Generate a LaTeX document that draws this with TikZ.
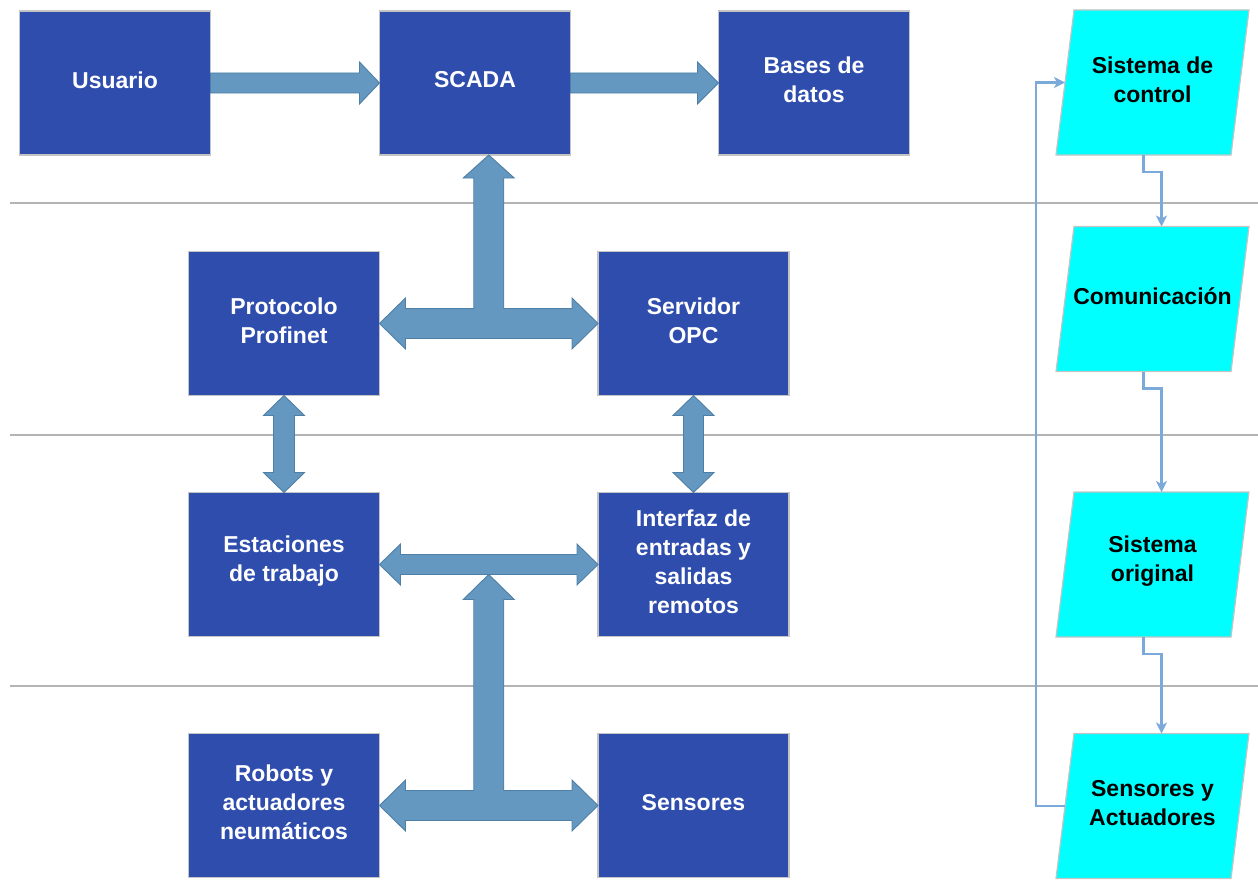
\documentclass[tikz,border=0pt]{standalone}
\usepackage{fontspec}
\setmainfont{Liberation Sans}
\usetikzlibrary{calc,arrows.meta}

\definecolor{boxblue}{HTML}{2F4DAD}
\definecolor{boxedge}{HTML}{C4C4C4}
\definecolor{fatfill}{HTML}{6598C0}
\definecolor{fatedge}{HTML}{4E7FA6}
\definecolor{flowline}{HTML}{7BA9D9}
\definecolor{sepline}{HTML}{B4B4B4}
\definecolor{paracyan}{HTML}{00FFFF}

\pgfdeclarelayer{background}
\pgfsetlayers{background,main}

\tikzset{
  blockbox/.style={rectangle, fill=boxblue, draw=boxedge, line width=1.2pt,
    minimum width=191pt, minimum height=144pt, inner sep=0pt, outer sep=0pt},
  blocklabel/.style={inner sep=0pt, yshift=3pt, text=white, align=center,
    font=\bfseries\fontsize{23}{29}\selectfont},
  paratext/.style={rectangle, inner sep=0pt, outer sep=0pt, text=black,
    align=center, font=\bfseries\fontsize{23}{29}\selectfont},
  parafill/.style={fill=paracyan, draw=boxedge, line width=1.2pt},
  fatarrow/.style={fill=fatfill, draw=fatedge, line width=0.9pt, line join=miter},
  flow/.style={draw=flowline, line width=2.5pt,
    -{Stealth[length=11pt,width=11pt,inset=3pt]}},
  sep/.style={draw=sepline, line width=1.4pt}
}

% horizontal double-headed block arrow: left tip, right tip, shaft half, head half, head length
\newcommand{\FatHArrow}[5]{%
  \filldraw[fatarrow] (#1) -- ($(#1)+(#5,-#4)$) -- ($(#1)+(#5,-#3)$)
    -- ($(#2)+(-#5,-#3)$) -- ($(#2)+(-#5,-#4)$) -- (#2)
    -- ($(#2)+(-#5,#4)$) -- ($(#2)+(-#5,#3)$)
    -- ($(#1)+(#5,#3)$) -- ($(#1)+(#5,#4)$) -- cycle;}
% vertical double-headed block arrow: top tip, bottom tip, shaft half, head half, head length
\newcommand{\FatVArrow}[5]{%
  \filldraw[fatarrow] (#1) -- ($(#1)+(#4,#5)$) -- ($(#1)+(#3,#5)$)
    -- ($(#2)+(#3,-#5)$) -- ($(#2)+(#4,-#5)$) -- (#2)
    -- ($(#2)+(-#4,-#5)$) -- ($(#2)+(-#3,-#5)$)
    -- ($(#1)+(-#3,#5)$) -- ($(#1)+(-#4,#5)$) -- cycle;}
% single right-pointing block arrow: start, tip, shaft half, head half, head length
\newcommand{\FatRArrow}[5]{%
  \filldraw[fatarrow] ($(#1)+(0,-#3)$) -- ($(#2)+(-#5,-#3)$)
    -- ($(#2)+(-#5,-#4)$) -- (#2) -- ($(#2)+(-#5,#4)$)
    -- ($(#2)+(-#5,#3)$) -- ($(#1)+(0,#3)$) -- cycle;}
% slanted parallelogram behind a text node (text sits 3pt above the middle), with side anchors
\newcommand{\ParaBack}[1]{%
  \begin{pgfonlayer}{background}
    \filldraw[parafill] ($(#1.center)+(-96.5,75.5)$) -- ($(#1.center)+(-78.5,-69.5)$)
      -- ($(#1.center)+(96.5,-69.5)$) -- ($(#1.center)+(78.5,75.5)$) -- cycle;
  \end{pgfonlayer}
  \coordinate (#1-t) at ($(#1.center)+(9,-69.5)$);
  \coordinate (#1-b) at ($(#1.center)+(-9,75.5)$);
  \coordinate (#1-l) at ($(#1.center)+(-87.5,3)$);}

\begin{document}
\begin{tikzpicture}[x=1pt,y=-1pt]
\useasboundingbox (0,0) rectangle (1258,883);

% level separators
\begin{pgfonlayer}{background}
  \foreach \yy in {203,435,686} \draw[sep] (10,\yy) -- (1258,\yy);
\end{pgfonlayer}

% system blocks
\node[blockbox, label={[blocklabel]center:Usuario}] (usr) at (115,83) {};
\node[blockbox, label={[blocklabel]center:SCADA}] (scada) at (475,83) {};
\node[blockbox, label={[blocklabel]center:{Bases de\\datos}}] (bd) at (814,83) {};
\node[blockbox, label={[blocklabel]center:{Protocolo\\Profinet}}] (prof) at (284,323.5) {};
\node[blockbox, label={[blocklabel]center:{Servidor\\OPC}}] (opc) at (693.5,323.5) {};
\node[blockbox, label={[blocklabel]center:{Estaciones\\de trabajo}}] (est) at (284,564.5) {};
\node[blockbox, label={[blocklabel]center:{Interfaz de\\entradas y\\salidas\\remotos}}] (rio) at (693.5,564.5) {};
\node[blockbox, label={[blocklabel]center:{Robots y\\actuadores\\neumáticos}}] (rob) at (284,805.5) {};
\node[blockbox, label={[blocklabel]center:Sensores}] (sen) at (693.5,805.5) {};

% hierarchy levels
\node[paratext] (ctrl) at (1152.5,79.5) {Sistema de\\control};
\ParaBack{ctrl}
\node[paratext] (com)  at (1152.5,296)  {Comunicación};
\ParaBack{com}
\node[paratext] (orig) at (1152.5,561.5) {Sistema\\original};
\ParaBack{orig}
\node[paratext] (sa)   at (1152.5,803)  {Sensores y\\Actuadores};
\ParaBack{sa}

% block arrows
\FatRArrow{usr.east}{scada.west}{10}{21}{20}
\FatRArrow{scada.east}{bd.west}{10}{21}{21}

\coordinate (mT) at ($(prof.east)!0.5!(opc.west)$);
\coordinate (sT) at (mT |- scada.south);
\filldraw[fatarrow] (prof.east) -- ($(prof.east)+(26,-25.5)$) -- ($(prof.east)+(26,-15)$)
  -- ($(mT)+(-15,-15)$) -- ($(sT)+(-15,23)$) -- ($(sT)+(-25.5,23)$) -- (sT)
  -- ($(sT)+(25.5,23)$) -- ($(sT)+(15,23)$) -- ($(mT)+(15,-15)$)
  -- ($(opc.west)+(-26,-15)$) -- ($(opc.west)+(-26,-25.5)$) -- (opc.west)
  -- ($(opc.west)+(-26,25.5)$) -- ($(opc.west)+(-26,15)$)
  -- ($(prof.east)+(26,15)$) -- ($(prof.east)+(26,25.5)$) -- cycle;

\FatVArrow{prof.south}{est.north}{10.5}{20.5}{20}
\FatVArrow{opc.south}{rio.north}{10}{20.5}{20}
\FatHArrow{est.east}{rio.west}{10}{20.5}{21}

\coordinate (mB) at ($(rob.east)!0.5!(sen.west)$);
\coordinate (sB) at ($(mB |- est.east)+(0,10)$);
\filldraw[fatarrow] (rob.east) -- ($(rob.east)+(26,-25.5)$) -- ($(rob.east)+(26,-15)$)
  -- ($(mB)+(-15,-15)$) -- ($(sB)+(-15,25)$) -- ($(sB)+(-25.5,25)$) -- (sB)
  -- ($(sB)+(25.5,25)$) -- ($(sB)+(15,25)$) -- ($(mB)+(15,-15)$)
  -- ($(sen.west)+(-26,-15)$) -- ($(sen.west)+(-26,-25.5)$) -- (sen.west)
  -- ($(sen.west)+(-26,25.5)$) -- ($(sen.west)+(-26,15)$)
  -- ($(rob.east)+(26,15)$) -- ($(rob.east)+(26,25.5)$) -- cycle;

% level flow
\draw[flow] (ctrl-b) -- ++(0,17) -| (com-t);
\draw[flow] (com-b)  -- ++(0,17) -| (orig-t);
\draw[flow] (orig-b) -- ++(0,17) -| (sa-t);
\draw[flow] (sa-l) -- ++(-29,0) |- (ctrl-l);
\end{tikzpicture}
\end{document}
